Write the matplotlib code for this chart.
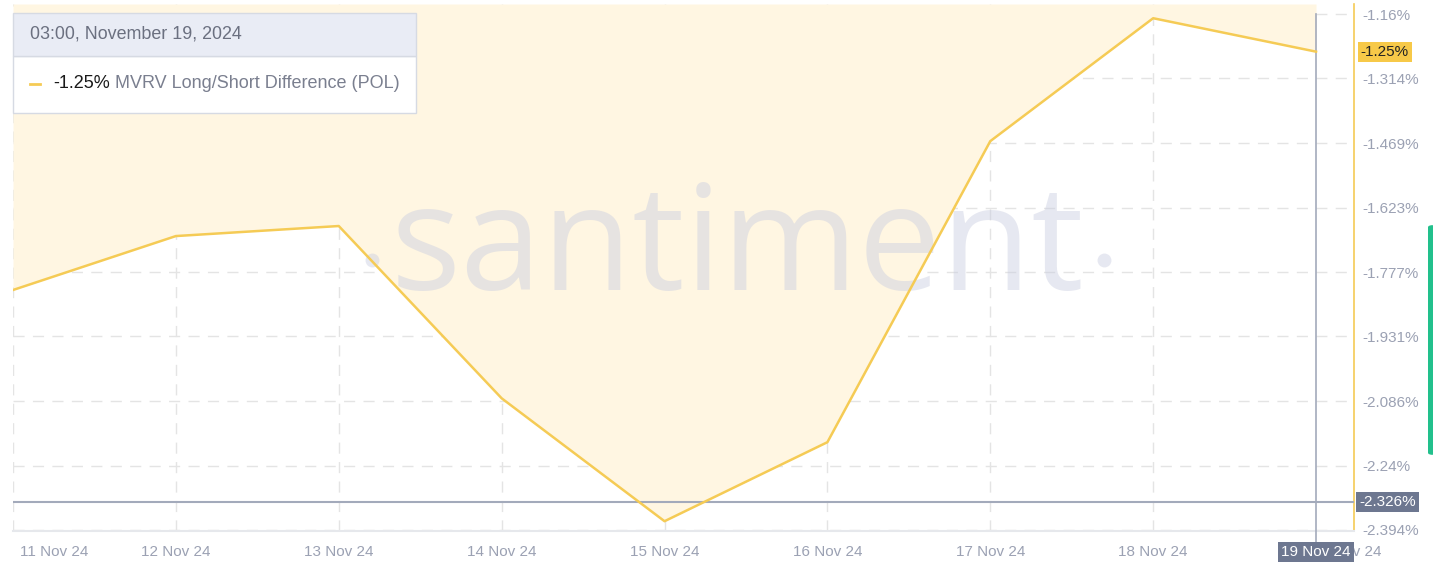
import matplotlib.pyplot as plt
from matplotlib.patches import Rectangle, FancyBboxPatch
import numpy as np

plt.rcParams['font.family'] = ['Liberation Sans', 'DejaVu Sans']

# data (MVRV long/short difference, %)
days = ['11 Nov 24', '12 Nov 24', '13 Nov 24', '14 Nov 24', '15 Nov 24',
        '16 Nov 24', '17 Nov 24', '18 Nov 24', '19 Nov 24']
values = [-1.820, -1.691, -1.667, -2.079, -2.373, -2.184, -1.464, -1.170, -1.250]
yticks = [-1.16, -1.314, -1.469, -1.623, -1.777, -1.931, -2.086, -2.24, -2.394]
ytick_labels = ['-1.16%', '-1.314%', '-1.469%', '-1.623%', '-1.777%',
                '-1.931%', '-2.086%', '-2.24%', '-2.394%']
cross_value = -2.326

W, H = 1433, 574
fig = plt.figure(figsize=(W / 100, H / 100), dpi=100)
fig.patch.set_facecolor('white')

ax = fig.add_axes([13 / W, (H - 531) / H, (1354 - 13) / W, (531 - 4) / H])
x = np.arange(len(values))
ylo, yhi = -2.3964, -1.136
ax.set_xlim(0, 8.233)
ax.set_ylim(ylo, yhi)

line_col = '#f5cb55'
grey_txt = '#9ba1b3'

# fill is above the line up to the top
ax.fill_between(x, values, yhi, color='#fff6e2', lw=0, zorder=1)
ax.plot(x, values, color=line_col, lw=1.8, zorder=4)

# watermark
wm_col = '#c9cde0'
ax.text(0.5403, 0.53, 'santiment', transform=ax.transAxes, ha='center', va='center',
        fontsize=106, family='Open Sans', color=wm_col, alpha=0.45, zorder=2)
ax.plot([(372 - 13) / 1341, (1104 - 13) / 1341], [(531 - 260) / 527] * 2, 'o',
        transform=ax.transAxes, ms=10, color=wm_col, alpha=0.45, mec='none', zorder=2)

# grid
for v in yticks:
    ax.axhline(v, color='#e4e4e4', lw=1, ls=(0, (8, 6)), zorder=0.5)
for xi in x[:-1]:
    ax.axvline(xi, color='#e4e4e4', lw=1, ls=(0, (8, 6)), zorder=0.5)

for s in ['top', 'left']:
    ax.spines[s].set_visible(False)
ax.spines['bottom'].set_color('#e6e8ec')
ax.spines['bottom'].set_linewidth(1.5)
ax.spines['right'].set_color(line_col)
ax.spines['right'].set_linewidth(1.2)

ax.yaxis.tick_right()
ax.set_yticks(yticks)
ax.set_yticklabels(ytick_labels)
ax.tick_params(axis='y', length=0, pad=6, labelsize=11, labelcolor=grey_txt)
ax.set_xticks([])

# x labels
for i, d in enumerate(days[:-1]):
    if i == 0:
        ax.text(7 / 163, -0.027, d, transform=ax.get_xaxis_transform(), ha='left', va='top',
                fontsize=11, color=grey_txt)
    else:
        ax.text(i, -0.027, d, transform=ax.get_xaxis_transform(), ha='center', va='top',
                fontsize=11, color=grey_txt)
ax.text(8.19, -0.027, days[-1], transform=ax.get_xaxis_transform(), ha='center', va='top',
        fontsize=11, color=grey_txt, clip_on=False)

# crosshair
ax.axhline(cross_value, color='#a3aabb', lw=1.5, zorder=3)
ax.plot([8, 8], [yhi - 0.024, ylo - 0.03], color='#a3aabb', lw=1.2, zorder=3, clip_on=False)

box_col = '#6d7790'
ax.text(8, -0.027, days[-1], transform=ax.get_xaxis_transform(), ha='center', va='top',
        fontsize=11, color='white', zorder=10,
        bbox=dict(boxstyle='square,pad=0.2', fc=box_col, ec='none'))
ax.text(1.004, cross_value, '-2.326%', transform=ax.get_yaxis_transform(), ha='left',
        va='center', fontsize=11, color='white', zorder=10,
        bbox=dict(boxstyle='square,pad=0.2', fc=box_col, ec='none'))
ax.text(1.005, values[-1], '-1.25%', transform=ax.get_yaxis_transform(), ha='left',
        va='center', fontsize=11, color='#222222', zorder=10,
        bbox=dict(boxstyle='square,pad=0.2', fc='#f7c948', ec='none'))

# tooltip legend box
fig.patches.append(Rectangle((13 / W, (H - 113) / H), (416 - 13) / W, (113 - 56) / H,
                             transform=fig.transFigure, fc='white', ec='#d6dae3', lw=1))
fig.patches.append(Rectangle((13 / W, (H - 56) / H), (416 - 13) / W, (56 - 13) / H,
                             transform=fig.transFigure, fc='#e9ecf5', ec='#d6dae3', lw=1))
fig.text(30 / W, (H - 34) / H, '03:00, November 19, 2024', fontsize=12.9, color='#6b7080',
         va='center')
fig.lines.append(plt.Line2D([30 / W, 40 / W], [(H - 84) / H] * 2, transform=fig.transFigure,
                            color=line_col, lw=2))
fig.text(53 / W, (H - 84) / H, '-1.25%', fontsize=13, color='#1a1a1a', va='center')
fig.text(115 / W, (H - 84) / H, 'MVRV Long/Short Difference (POL)', fontsize=13,
         color='#7a7f8f', va='center')

# green side tab
fig.patches.append(FancyBboxPatch((1428 / W, (H - 455) / H), 8 / W, 230 / H,
                                  boxstyle='round,pad=0,rounding_size=0.004',
                                  transform=fig.transFigure, fc='#22c08c', ec='none'))

fig.savefig('out.png', dpi=100)
